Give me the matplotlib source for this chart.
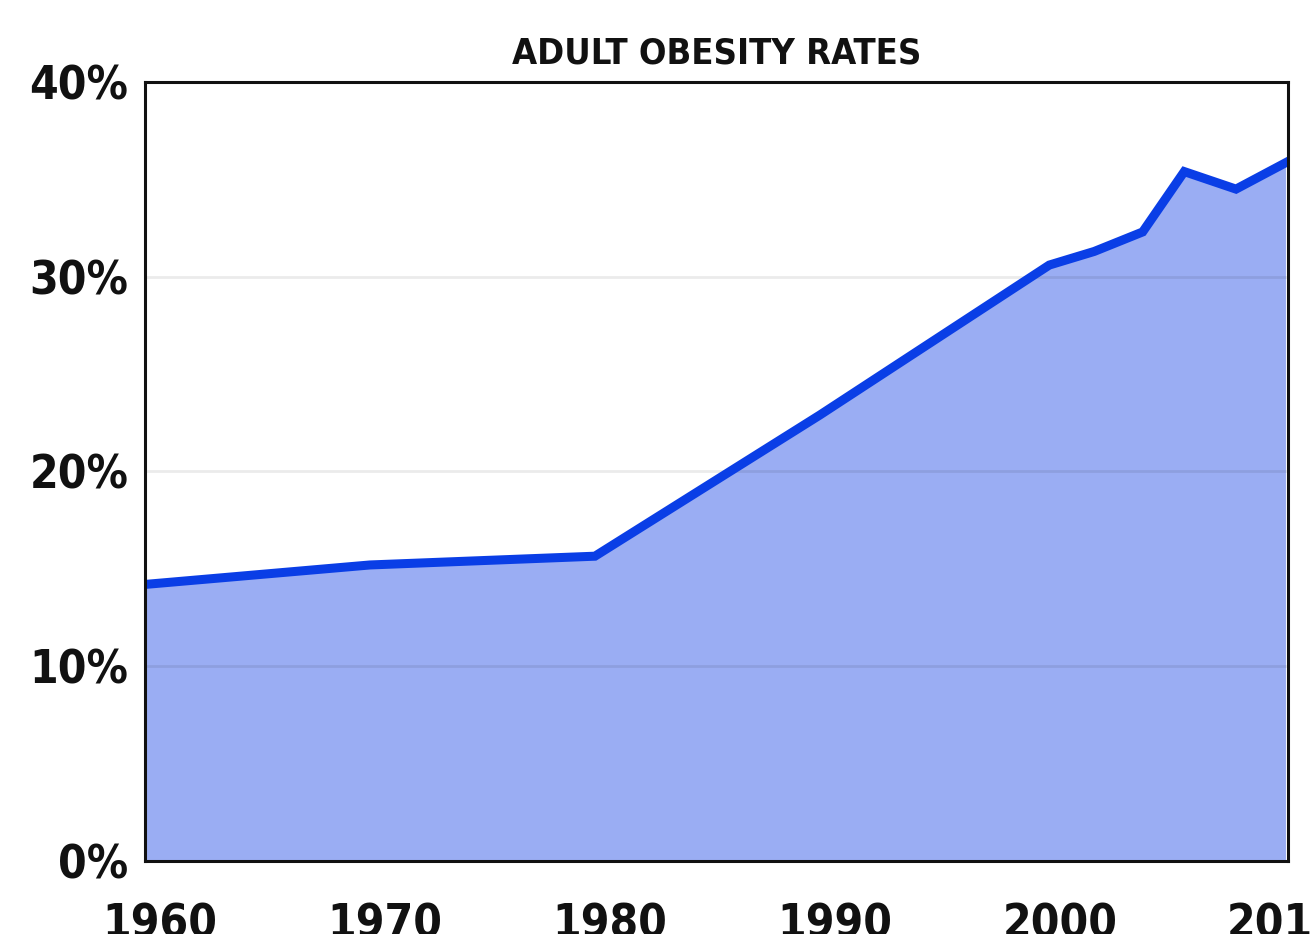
import matplotlib
matplotlib.use('Agg')
import matplotlib.pyplot as plt
import matplotlib.transforms as mtransforms
from matplotlib.ticker import FixedLocator

# adult obesity rates
years = [1960, 1970, 1980, 1990, 2000.2, 2002.2, 2004.35, 2006.2, 2008.5, 2010.7]
rates = [14.2, 15.2, 15.65, 22.9, 30.6, 31.3, 32.3, 35.4, 34.5, 35.85]

year_ticks = [1960, 1970, 1980, 1990, 2000, 2010]
rate_ticks = [0, 10, 20, 30, 40]
rate_labels = ['0%', '10%', '20%', '30%', '40%']
title = 'ADULT OBESITY RATES'

fam = ['DejaVu Sans']

fig = plt.figure(figsize=(13.14, 9.34), dpi=100)
ax = fig.add_axes([0.1104, 0.0782, 0.8696, 0.834])

ax.fill_between(years, rates, 0, color='#9aadf3', lw=0, zorder=1)
for r in rate_ticks[1:-1]:
 ax.axhline(r, color='#000000', alpha=0.08, lw=2, zorder=2)
ax.plot(years, rates, color='#0a3ee6', lw=6.5, solid_joinstyle='miter', zorder=3)

ax.set_xlim(1960, 2010.8)
ax.set_ylim(0, 40)
ax.xaxis.set_major_locator(FixedLocator(year_ticks))
ax.set_xticklabels([str(y) for y in year_ticks])
ax.yaxis.set_major_locator(FixedLocator(rate_ticks))
ax.set_yticklabels(rate_labels)
ax.tick_params(length=0)
ax.tick_params(axis='x', pad=30)
ax.tick_params(axis='y', pad=12)
for lab in ax.get_xticklabels() + ax.get_yticklabels():
 lab.set_family(fam)
 lab.set_fontsize(33)
 lab.set_fontweight('bold')
 lab.set_fontstretch('condensed')
 lab.set_color('#111111')
# year labels sit a bit right of their ticks
off = mtransforms.ScaledTranslation(15/100, 0, fig.dpi_scale_trans)
for lab in ax.get_xticklabels():
 lab.set_transform(lab.get_transform() + off)

for s in ax.spines.values():
 s.set_linewidth(2.2)
 s.set_color('#111111')
 s.set_zorder(4)

ax.set_title(title, family=fam, fontsize=26, fontweight='bold', fontstretch='condensed', color='#111111', pad=13)

fig.savefig('out.png', dpi=100)
